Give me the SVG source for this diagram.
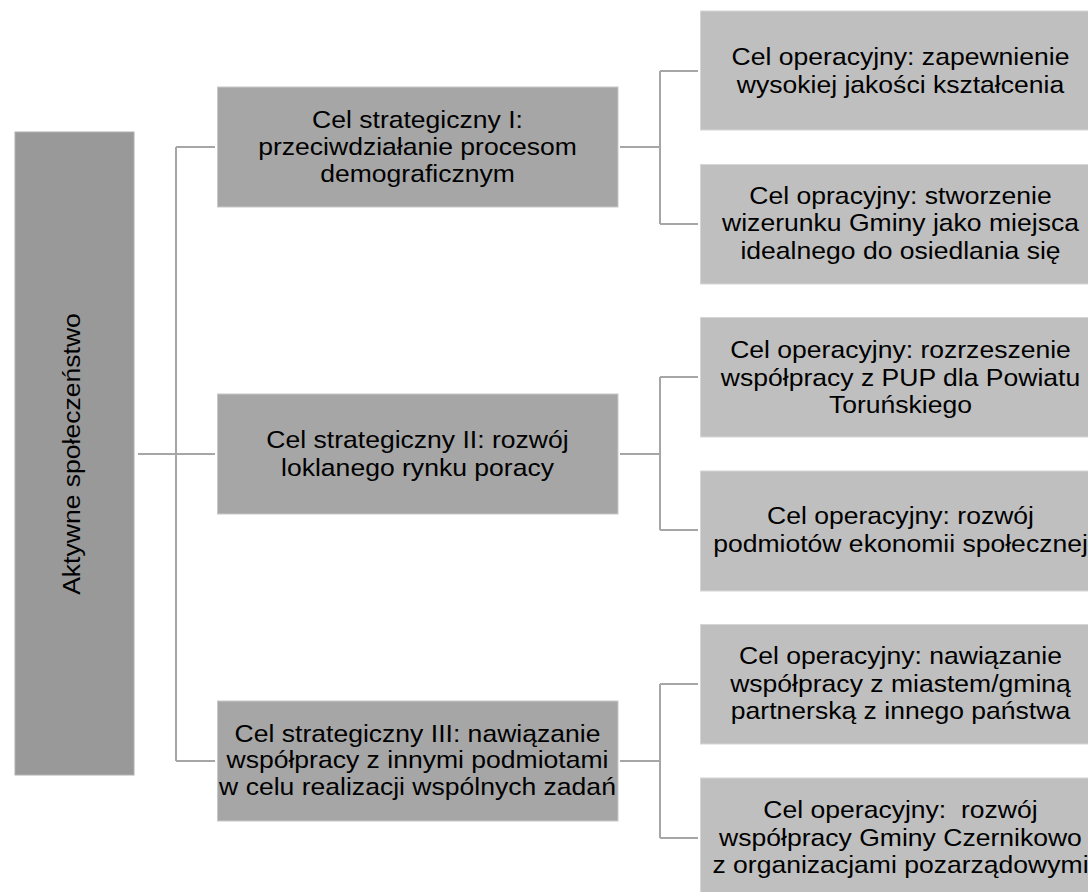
<svg xmlns="http://www.w3.org/2000/svg" width="1088" height="892" viewBox="0 0 1088 892">
<style>
.t{font-family:"Liberation Sans",Arial,sans-serif;font-size:24px;fill:#000;text-anchor:middle}
.root{fill:#999999;stroke:#b0b0b0;stroke-width:1}
.strat{fill:#a6a6a6;stroke:#c8c8c8;stroke-width:1}
.op{fill:#bfbfbf;stroke:#d6d6d6;stroke-width:1}
.c{fill:none;stroke:#a6a6a6;stroke-width:2}
</style>
<rect width="1088" height="892" fill="#fff"/>
<g id="connectors">
<path class="c" d="M138 454H215M176 147V761M176 147H215M176 761H215"/>
<path class="c" d="M620 147H660M660 71V224M660 71H698M660 224H698"/>
<path class="c" d="M620 454H660M660 377V530M660 377H698M660 530H698"/>
<path class="c" d="M620 761H660M660 684V838M660 684H698M660 838H698"/>
</g>
<g id="root">
<rect class="root" x="15" y="132" width="119" height="643"/>
<text class="t" transform="translate(80 454) rotate(-90) scale(1.106 1)" x="0" y="0">Aktywne społeczeństwo</text>
</g>
<g id="s1">
<rect class="strat" x="217.5" y="87" width="400.5" height="120"/>
<text class="t" transform="matrix(1.106 0 0 1 417.5 0)"><tspan x="0" y="128.3">Cel strategiczny I:</tspan><tspan x="0" y="155">przeciwdziałanie procesom</tspan><tspan x="0" y="181.7">demograficznym</tspan></text>
</g>
<g id="s2">
<rect class="strat" x="217.5" y="394" width="400.5" height="120"/>
<text class="t" transform="matrix(1.106 0 0 1 417.5 0)"><tspan x="0" y="448.3">Cel strategiczny II: rozwój</tspan><tspan x="0" y="476">loklanego rynku poracy</tspan></text>
</g>
<g id="s3">
<rect class="strat" x="217.5" y="701" width="400.5" height="120"/>
<text class="t" transform="matrix(1.106 0 0 1 417.5 0)"><tspan x="0" y="741.7">Cel strategiczny III: nawiązanie</tspan><tspan x="0" y="768.3">współpracy z innymi podmiotami</tspan><tspan x="0" y="795">w celu realizacji wspólnych zadań</tspan></text>
</g>
<g id="o1">
<rect class="op" x="700.5" y="11" width="400" height="119"/>
<text class="t" transform="matrix(1.106 0 0 1 900.5 0)"><tspan x="0" y="65">Cel operacyjny: zapewnienie</tspan><tspan x="0" y="92.7">wysokiej jakości kształcenia</tspan></text>
</g>
<g id="o2">
<rect class="op" x="700.5" y="164.5" width="400" height="119.5"/>
<text class="t" transform="matrix(1.106 0 0 1 900.5 0)"><tspan x="0" y="204">Cel opracyjny: stworzenie</tspan><tspan x="0" y="231.5">wizerunku Gminy jako miejsca</tspan><tspan x="0" y="258.8">idealnego do osiedlania się</tspan></text>
</g>
<g id="o3">
<rect class="op" x="700.5" y="317.5" width="400" height="119.5"/>
<text class="t" transform="matrix(1.106 0 0 1 900.5 0)"><tspan x="0" y="358.3">Cel operacyjny: rozrzeszenie</tspan><tspan x="0" y="386">współpracy z PUP dla Powiatu</tspan><tspan x="0" y="413.3">Toruńskiego</tspan></text>
</g>
<g id="o4">
<rect class="op" x="700.5" y="471" width="400" height="120"/>
<text class="t" transform="matrix(1.106 0 0 1 900.5 0)"><tspan x="0" y="524">Cel operacyjny: rozwój</tspan><tspan x="0" y="551.7">podmiotów ekonomii społecznej</tspan></text>
</g>
<g id="o5">
<rect class="op" x="700.5" y="624.5" width="400" height="119.5"/>
<text class="t" transform="matrix(1.106 0 0 1 900.5 0)"><tspan x="0" y="664.3">Cel operacyjny: nawiązanie</tspan><tspan x="0" y="692">współpracy z miastem/gminą</tspan><tspan x="0" y="719.3">partnerską z innego państwa</tspan></text>
</g>
<g id="o6">
<rect class="op" x="700.5" y="778" width="400" height="120"/>
<text class="t" transform="matrix(1.106 0 0 1 900.5 0)"><tspan x="0" y="818.3">Cel operacyjny:&#160; rozwój</tspan><tspan x="0" y="845.7">współpracy Gminy Czernikowo</tspan><tspan x="0" y="873.3">z organizacjami pozarządowymi</tspan></text>
</g>
</svg>
